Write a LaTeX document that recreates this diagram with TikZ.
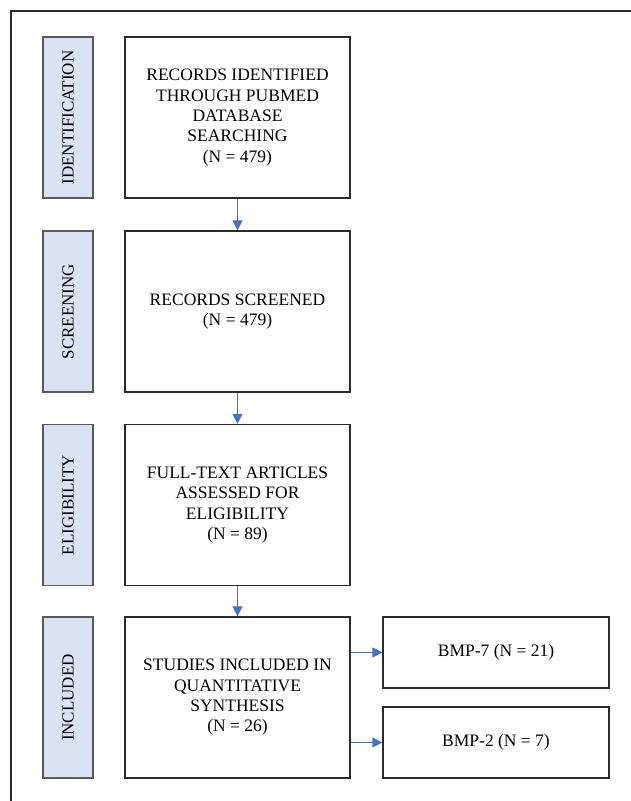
\documentclass[tikz,border=0pt]{standalone}
\usepackage{fontspec}
\setmainfont{Liberation Serif}
\usetikzlibrary{arrows.meta}
\definecolor{phasefill}{HTML}{DAE3F3}
\definecolor{phaseline}{HTML}{595959}
\definecolor{arrowblue}{HTML}{4472C4}
\definecolor{boxline}{HTML}{2B2B2B}
\begin{document}
\begin{tikzpicture}[x=1pt,y=-1pt,
  phase/.style={draw=phaseline, line width=1.1pt, fill=phasefill, minimum width=50pt, minimum height=161pt, inner sep=0pt},
  phasetext/.style={rotate=90, font=\fontsize{17}{20}\selectfont, inner sep=0pt},
  mainbox/.style={draw=boxline, line width=1.4pt, minimum width=225pt, minimum height=161pt, align=center, inner sep=0pt, font=\fontsize{17.5}{20.3}\selectfont},
  smallbox/.style={draw=boxline, line width=1.4pt, minimum width=226pt, minimum height=71pt, align=center, inner sep=0pt, font=\fontsize{17.5}{20.3}\selectfont},
  arr/.style={draw=arrowblue, line width=1.4pt, -{Triangle[length=10pt,width=10pt]}}]
\useasboundingbox (0,0) rectangle (631,801);
\draw[boxline, line width=1.4pt] (631,11) -- (11,11) -- (11,801);

% phase boxes
\node[phase] (p1) at (68,117.5) {};
\node[phasetext] at (p1) {IDENTIFICATION};
\node[phase] (p2) at (68,311.5) {};
\node[phasetext] at (p2) {SCREENING};
\node[phase] (p3) at (68,505) {};
\node[phasetext] at (p3) {ELIGIBILITY};
\node[phase] (p4) at (68,697.5) {};
\node[phasetext] at (p4) {INCLUDED};

% main boxes
\node[mainbox] (m1) at (237.5,117.5) {RECORDS IDENTIFIED\\THROUGH PUBMED\\DATABASE\\SEARCHING\\(N = 479)};
\node[mainbox] (m2) at (237.5,311.5) {RECORDS SCREENED\\(N = 479)};
\node[mainbox] (m3) at (237.5,505) {FULL-TEXT ARTICLES\\ASSESSED FOR\\ELIGIBILITY\\(N = 89)};
\node[mainbox] (m4) at (237.5,697.5) {STUDIES INCLUDED IN\\QUANTITATIVE\\SYNTHESIS\\(N = 26)};

\node[smallbox] (b7) at (496,652.5) {BMP-7 (N = 21)};
\node[smallbox] (b2) at (496,742.5) {BMP-2 (N = 7)};

% arrows
\draw[arr] (m1.south) -- (m2.north);
\draw[arr] (m2.south) -- (m3.north);
\draw[arr] (m3.south) -- (m4.north);
\draw[arr] (m4.east |- b7.west) -- (b7.west);
\draw[arr] (m4.east |- b2.west) -- (b2.west);
\end{tikzpicture}
\end{document}
